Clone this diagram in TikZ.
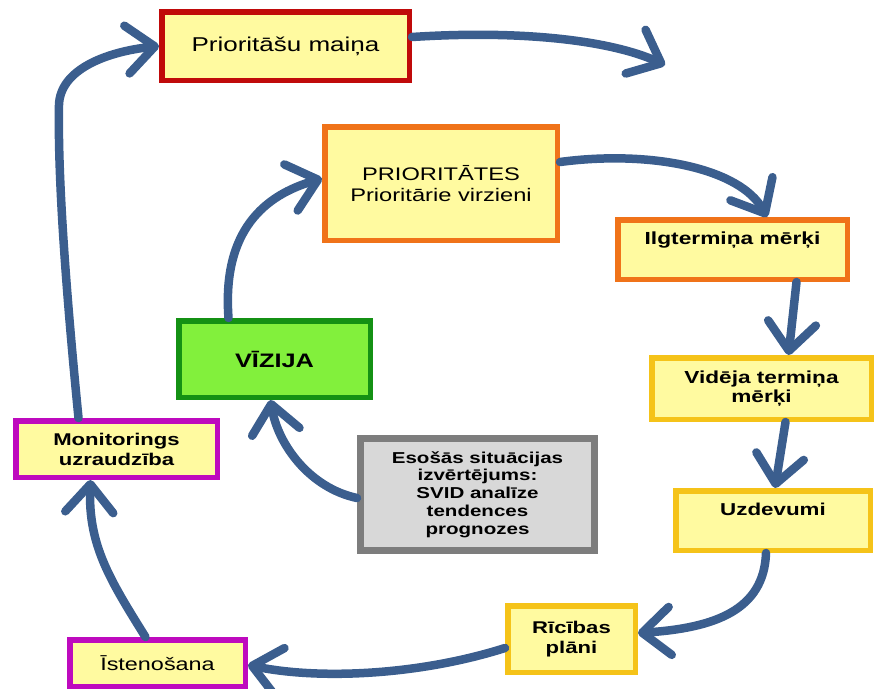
\documentclass[tikz,border=0pt]{standalone}
\usepackage{fontspec}
\setmainfont{Liberation Sans}[FakeStretch=1.3]
\usetikzlibrary{arrows.meta}
\definecolor{boxyellow}{RGB}{255,250,160}
\definecolor{changered}{RGB}{192,10,10}
\definecolor{prioorange}{RGB}{240,115,25}
\definecolor{goalgold}{RGB}{245,195,25}
\definecolor{monmagenta}{RGB}{190,10,190}
\definecolor{visiongreen}{RGB}{130,240,60}
\definecolor{visionborder}{RGB}{20,145,20}
\definecolor{statefill}{RGB}{216,216,216}
\definecolor{stateborder}{RGB}{125,125,125}
\definecolor{flowblue}{RGB}{59,94,142}
\begin{document}
\begin{tikzpicture}[x=1pt,y=-1pt]
    \tikzstyle{box}=[rectangle,draw,line width=5.5pt,fill=boxyellow,inner sep=0pt,align=center]
    \tikzstyle{topbox}=[text height=25pt,text depth=34.5pt]
    \tikzstyle{flow}=[draw=flowblue,line width=8.5pt,line cap=round,-{Straight Barb[length=28pt,width=48pt,round]}]
    \useasboundingbox (0,0) rectangle (874,688);

    % outer loop
    \node[box,draw=changered,minimum width=247.5pt,minimum height=68.5pt,font=\fontsize{20}{23}\selectfont] (maina) at (285.5,46) {Prioritāšu maiņa};
    \coordinate (open) at (665,65);

    % priorities and goals
    \node[box,draw=prioorange,minimum width=232.5pt,minimum height=113.5pt,font=\fontsize{18.2}{20.5}\selectfont] (prior) at (441,183.5) {PRIORITĀTES\\Prioritārie virzieni};
    \node[box,topbox,draw=prioorange,minimum width=229.5pt,font=\bfseries\fontsize{17.5}{19}\selectfont] (ilgt) at (732.5,249.5) {Ilgtermiņa mērķi};
    \node[box,draw=goalgold,minimum width=219.5pt,minimum height=61.5pt,font=\bfseries\fontsize{17.4}{18.5}\selectfont] (vid) at (761.5,388.5) {Vidēja termiņa\\mērķi};
    \node[box,topbox,draw=goalgold,minimum width=194.5pt,font=\bfseries\fontsize{17.2}{19}\selectfont] (uzd) at (773,520.5) {Uzdevumi};
    \node[box,draw=goalgold,minimum width=127.5pt,minimum height=66.5pt,font=\bfseries\fontsize{17}{20}\selectfont] (ric) at (571.5,639) {Rīcības\\plāni};

    % implementation and monitoring
    \node[box,draw=monmagenta,minimum width=175.5pt,minimum height=46.5pt,font=\fontsize{18}{20}\selectfont] (isten) at (157.5,663) {Īstenošana};
    \node[box,draw=monmagenta,minimum width=201.5pt,minimum height=56.5pt,font=\bfseries\fontsize{17}{20}\selectfont] (monit) at (116.5,449) {Monitorings\\uzraudzība};

    % vision and current state
    \node[box,draw=visionborder,fill=visiongreen,minimum width=191.5pt,minimum height=76.5pt,font=\bfseries\fontsize{19.5}{21}\selectfont] (viz) at (274.5,359) {VĪZIJA};
    \node[box,draw=stateborder,fill=statefill,line width=7pt,minimum width=234pt,minimum height=112pt,font=\bfseries\fontsize{15.8}{17.8}\selectfont] (eso) at (477.5,494.5) {Esošās situācijas\\izvērtējums:\\SVID analīze\\tendences\\prognozes};

    % cycle arrows
    \draw[flow] ([yshift=9pt]maina.east) .. controls (520,30) and (610,40) .. (open);
    \draw[flow] ([yshift=21.5pt]prior.east) .. controls (650,150) and (740,168) .. ([xshift=34.5pt]ilgt.north);
    \draw[flow] ([xshift=64pt]ilgt.south) -- ([xshift=27pt]vid.north);
    \draw[flow] ([xshift=24pt]vid.south) -- ([xshift=2pt]uzd.north);
    \draw[flow] ([xshift=-7pt]uzd.south) .. controls (764,610) and (715,628) .. ([yshift=6pt]ric.east);
    \draw[flow] ([yshift=-9pt]ric.west) .. controls (420,675) and (320,680) .. ([yshift=-2pt]isten.east);
    \draw[flow] ([xshift=-12pt]isten.north) .. controls (110,580) and (88,545) .. ([xshift=-26pt]monit.south);
    \draw[flow] ([xshift=-38pt]monit.north) .. controls (62,250) and (58,160) .. (59,105)
        .. controls (60,70) and (105,52) .. (maina.west);

    % inner arrows
    \draw[flow] ([xshift=-46pt]viz.north) .. controls (222,230) and (265,195) .. ([yshift=5pt]prior.west);
    \draw[flow] ([yshift=-3.5pt]eso.west) .. controls (310,488) and (278,445) .. ([xshift=-4pt]viz.south);
\end{tikzpicture}
\end{document}
